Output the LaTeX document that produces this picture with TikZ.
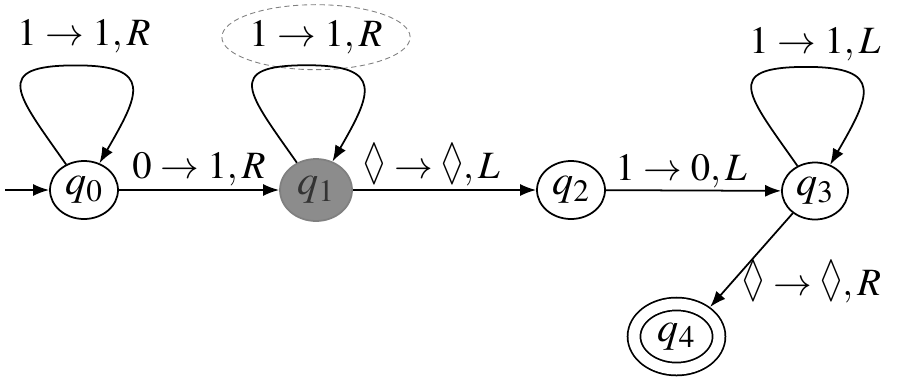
\documentclass[tikz,border=0pt]{standalone}
\usepackage{mathptmx}
\usepackage{amssymb}
\usepackage{graphicx}
\newcommand{\loz}{\mathord{\scalebox{0.85}[1.3]{$\lozenge$}}}
\usetikzlibrary{arrows.meta,positioning,shapes.geometric}

\begin{document}
\begin{tikzpicture}[
    state/.style={
      ellipse,
      draw,
      line width=1pt,
      minimum width=1.36cm,
      minimum height=1.16cm,
      inner sep=0pt,
      font=\fontsize{24}{28}\selectfont
    },
    accept/.style={
      state,
      double,
      double distance=0.22cm,
      minimum width=1.70cm,
      minimum height=1.30cm
    },
    lbl/.style={inner sep=0pt},
    arrow/.style={
      -{Latex[length=0.32cm,width=0.24cm]},
      line width=1pt
    },
    font=\fontsize{22}{26}\selectfont]

    \useasboundingbox (0,0) rectangle (18.18,-7.7);

    % States of the machine, all on one row except the final state
    \node[state] (q0) at (1.68,-3.8) {$q_0$};
    \node[state,fill=black!45,draw=black!50,text=black!80,
      minimum width=1.44cm,minimum height=1.24cm] (q1) at (6.32,-3.8) {$q_1$};
    \node[state] (q2) at (11.42,-3.8) {$q_2$};
    \node[state,minimum width=1.32cm,minimum height=1.14cm] (q3) at (16.30,-3.82) {$q_3$};
    \node[accept] (q4) at (13.53,-6.73) {$q_4$};
    \coordinate (start) at (0.1,-3.8);

    % Labels of the self loops
    \node[lbl,above=2.14cm of q0] (l0) {$1\rightarrow 1,R$};
    \node[lbl,ellipse,draw=black!50,densely dashed,line width=0.5pt,
      minimum width=3.56cm,minimum height=1.3cm,above=1.76cm of q1] (l1) {$1\rightarrow 1,R$};
    \node[lbl,above=2.0cm of q3] (l3) {$1\rightarrow 1,L$};

    % Self loops
    \draw[arrow] (q0.125) to[out=125,in=180,looseness=2.2] ++(0.2,1.98) to[out=0,in=60,looseness=2] (q0.60);
    \draw[arrow] (q1.125) to[out=125,in=180,looseness=2.2] ++(0.2,1.95) to[out=0,in=60,looseness=2] (q1.60);
    \draw[arrow] (q3.125) to[out=125,in=180,looseness=2.2] ++(0.18,1.98) to[out=0,in=60,looseness=2] (q3.60);

    % Transitions
    \draw[arrow] (start) -- (q0);
    \draw[arrow] (q0) -- node[lbl,above=2pt] {$0\rightarrow 1,R$} (q1);
    \draw[arrow] (q1) -- node[lbl,above=2pt,pos=0.43] {$\loz\rightarrow\loz,L$} (q2);
    \draw[arrow] (q2) -- node[lbl,above=1pt,pos=0.43] {$1\rightarrow 0,L$} (q3);
    \draw[arrow,shorten >=0.13cm] (q3.225) -- node[lbl,right=0.2cm,pos=0.7] {$\loz\rightarrow\loz,R$} (q4.40);
  \end{tikzpicture}
\end{document}
